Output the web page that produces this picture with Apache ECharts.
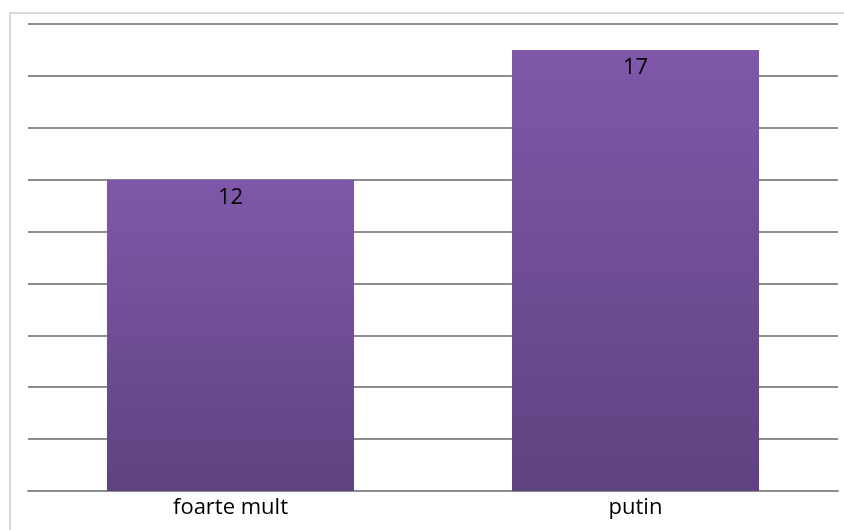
<!DOCTYPE html>
<html>
<head>
<meta charset="utf-8">
<script src="https://cdn.jsdelivr.net/npm/echarts@6/dist/echarts.min.js"></script>
<style>
html, body { margin: 0; padding: 0; background: #fff; }
#chart { width: 844px; height: 530px; }
</style>
</head>
<body>
<div id="chart"></div>
<script>
const categories = ['foarte mult', 'putin'];
const values = [12, 17];
const yMin = 0;
const yMax = 18;
const yStep = 2;

const chart = echarts.init(document.getElementById('chart'));
chart.setOption({
	animation: false,
	graphic: [{
		type: 'rect',
		shape: { x: 10, y: 13, width: 840, height: 530 },
		style: { fill: 'none', stroke: '#d9d9d9', lineWidth: 2 },
		silent: true
	}],
	grid: { left: 28, right: 6, top: 24, bottom: 39 },
	xAxis: {
		type: 'category',
		data: categories,
		axisTick: { show: false },
		axisLine: { lineStyle: { color: '#8c8c8c', width: 2 } },
		axisLabel: {
			color: '#000',
			fontSize: 22,
			fontFamily: 'Open Sans',
			margin: 6
		}
	},
	yAxis: {
		type: 'value',
		min: yMin,
		max: yMax,
		interval: yStep,
		axisLabel: { show: false },
		axisLine: { show: false },
		axisTick: { show: false },
		splitLine: { lineStyle: { color: '#8c8c8c', width: 2 } }
	},
	series: [{
		type: 'bar',
		data: values,
		barWidth: '61%',
		itemStyle: {
			color: new echarts.graphic.LinearGradient(0, 0, 0, 1, [
				{ offset: 0, color: '#7f58a9' },
				{ offset: 1, color: '#5e4380' }
			], false)
		},
		label: {
			show: true,
			position: 'insideTop',
			distance: 7,
			color: '#000',
			fontSize: 22,
			fontFamily: 'Open Sans'
		}
	}]
});
</script>
</body>
</html>
